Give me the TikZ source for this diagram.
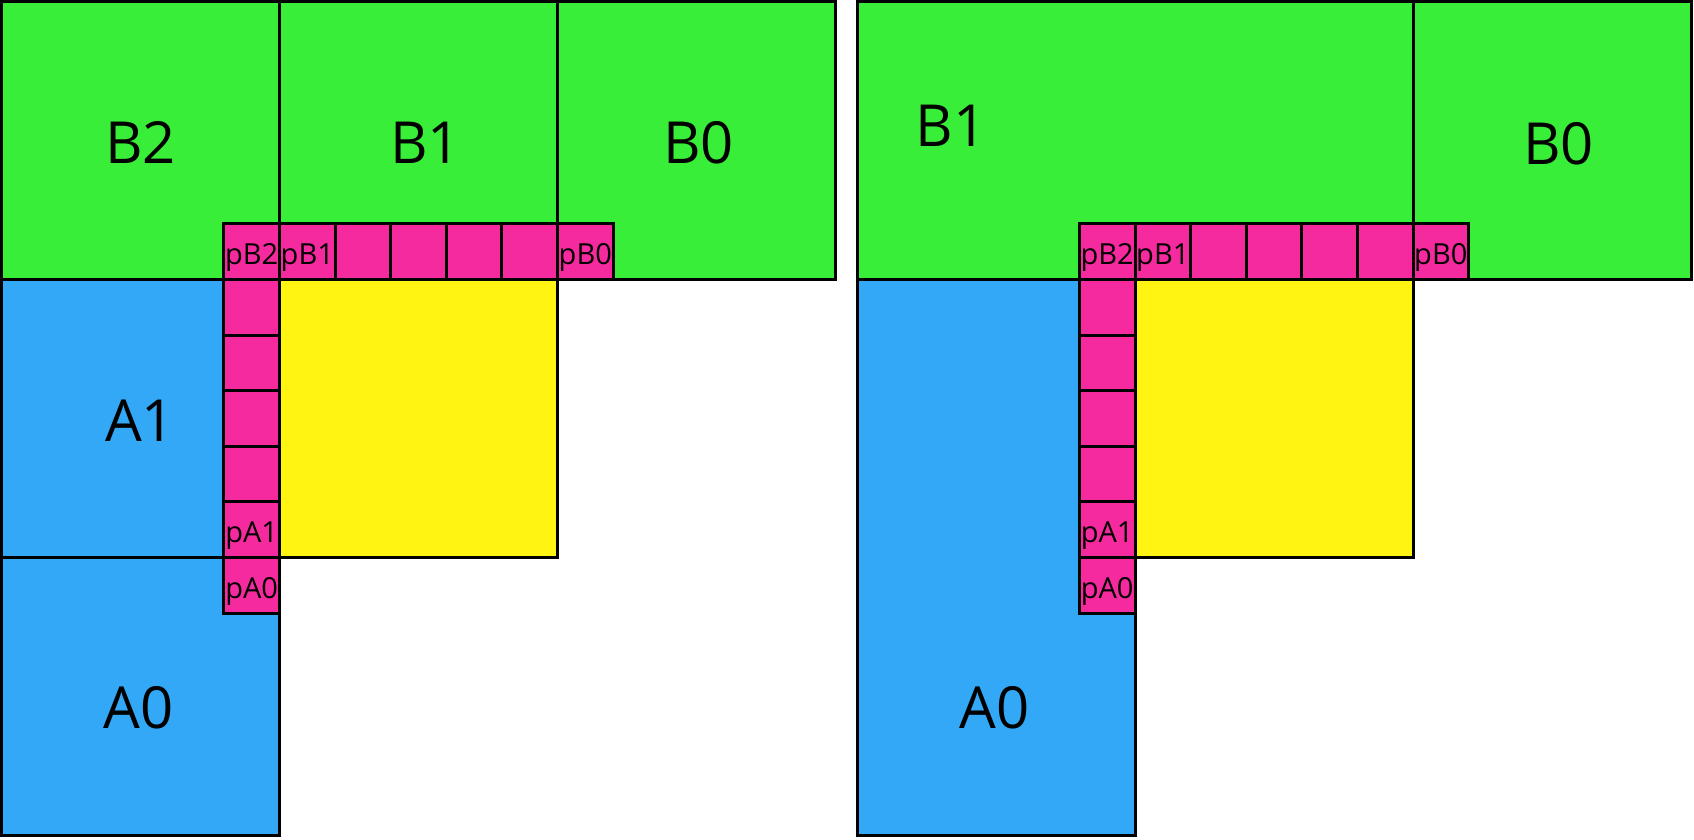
\documentclass[tikz,border=0pt]{standalone}
\usepackage{fontspec}
\setmainfont{Open Sans}
\definecolor{cgreen}{HTML}{38EE38}
\definecolor{cblue}{HTML}{32A8F7}
\definecolor{cpink}{HTML}{F52A9E}
\definecolor{cyellow}{HTML}{FFF412}
\begin{document}
\begin{tikzpicture}[x=1pt,y=-1pt,
  frame/.style={draw=black,line width=3pt},
  gbox/.style={frame,fill=cgreen},
  bbox/.style={frame,fill=cblue},
  ybox/.style={frame,fill=cyellow},
  cell/.style={frame,fill=cpink},
  big/.style={anchor=base,inner sep=0pt,font=\fontsize{58}{60}\selectfont},
  small/.style={anchor=base,inner sep=0pt,font=\fontsize{29}{30}\selectfont}]
\useasboundingbox (0,0) rectangle (1694,839);
% ---------- left panel ----------
\draw[gbox] (1.5,1.5) rectangle (279.5,279.5);
\draw[gbox] (279.5,1.5) rectangle (557.5,279.5);
\draw[gbox] (557.5,1.5) rectangle (835.5,279.5);
\draw[bbox] (1.5,279.5) rectangle (279.5,557.5);
\draw[bbox] (1.5,557.5) rectangle (279.5,835.5);
\draw[ybox] (279.5,279.5) rectangle (557.5,557.5);
\foreach \i in {0,...,6}
  \draw[cell] ({223.9+\i*55.6},223.9) rectangle ({223.9+(\i+1)*55.6},279.5);
\foreach \j in {0,...,5}
  \draw[cell] (223.9,{279.5+\j*55.6}) rectangle (279.5,{279.5+(\j+1)*55.6});
\node[big] (LB2) at (140.5,163.5) {B2};
\node[big] (LB1) at (425.7,163.5) {B1};
\node[big] (LB0) at (698.5,163.5) {B0};
\node[big] (LA1) at (140,441.7) {A1};
\node[big] (LA0) at (138.5,728) {A0};
\node[small] (LpB2) at (251.7,264.5) {pB2};
\node[small] (LpB1) at (307.3,264.5) {pB1};
\node[small] (LpB0) at (585.3,264.5) {pB0};
\node[small] (LpA1) at (251.7,542.9) {pA1};
\node[small] (LpA0) at (251.7,598.5) {pA0};
% ---------- right panel ----------
\draw[gbox] (857,1.5) rectangle (1413,279.5);
\draw[gbox] (1413,1.5) rectangle (1691,279.5);
\draw[bbox] (857,279.5) rectangle (1135,835.5);
\draw[ybox] (1135,279.5) rectangle (1413,557.5);
\foreach \i in {0,...,6}
  \draw[cell] ({1079.4+\i*55.6},223.9) rectangle ({1079.4+(\i+1)*55.6},279.5);
\foreach \j in {0,...,5}
  \draw[cell] (1079.4,{279.5+\j*55.6}) rectangle (1135,{279.5+(\j+1)*55.6});
\node[big] (RB1) at (951,146.7) {B1};
\node[big] (RB0) at (1558.5,164) {B0};
\node[big] (RA0) at (994.5,728) {A0};
\node[small] (RpB2) at (1107.2,264.5) {pB2};
\node[small] (RpB1) at (1162.8,264.5) {pB1};
\node[small] (RpB0) at (1440.8,264.5) {pB0};
\node[small] (RpA1) at (1107.2,542.9) {pA1};
\node[small] (RpA0) at (1107.2,598.5) {pA0};
\end{tikzpicture}
\end{document}
